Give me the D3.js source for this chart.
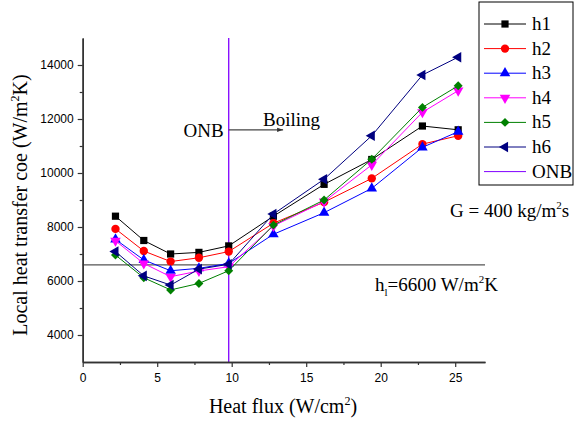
<!DOCTYPE html>
<html><head><meta charset="utf-8">
<script src="https://cdn.jsdelivr.net/npm/d3@7"></script>
<style>body{margin:0;background:#fff}svg{display:block}</style>
</head><body>
<svg id="c" width="576" height="421"></svg>
<script>
const heatFlux = [2.2, 4.1, 5.9, 7.8, 9.8, 12.8, 16.2, 19.4, 22.8, 25.2];
const h1 = [8400, 7500, 7000, 7060, 7300, 8400, 9580, 10500, 11740, 11600];
const h2 = [7930, 7110, 6720, 6860, 7090, 8140, 8920, 9800, 11070, 11380];
const h3 = [7540, 6780, 6380, 6470, 6650, 7730, 8530, 9430, 10950, 11530];
const h4 = [7490, 6650, 6160, 6370, 6530, 8040, 8940, 10300, 12250, 13050];
const h5 = [6960, 6120, 5670, 5910, 6380, 8070, 9000, 10510, 12430, 13230];
const h6 = [7090, 6190, 5850, 6440, 6620, 8480, 9770, 11380, 13630, 14290];
const seriesNames = ["h1","h2","h3","h4","h5","h6"];
const onbFlux = 9.8;
const hl = 6600;
const xTicks = [0,5,10,15,20,25];
const yTicks = [4000,6000,8000,10000,12000,14000];

const series = [h1,h2,h3,h4,h5,h6];
const colors = ["#000000","#ff0000","#0000ff","#ff00ff","#008000","#000080"];
const shapes = [
  {t:d3.symbolSquare, r:0, s:52},
  {t:d3.symbolCircle, r:0, s:55},
  {t:d3.symbolTriangle, r:0, s:48},
  {t:d3.symbolTriangle, r:180, s:48},
  {t:d3.symbolSquare, r:45, s:40},
  {t:d3.symbolTriangle, r:-90, s:48}
];
const onbColor = "#8000ff";

const svg = d3.select("#c");
const x = d3.scaleLinear().domain([0,27]).range([82.7,485]);
const y = d3.scaleLinear().domain([3000,15000]).range([362,38]);
const serif = "'Liberation Serif','Times New Roman',serif";
const sans = "'Liberation Sans',Arial,sans-serif";

// reference lines
svg.append("line").attr("x1",x(0)).attr("x2",x(27)).attr("y1",y(hl)).attr("y2",y(hl))
  .attr("stroke","#555").attr("stroke-width",1.3);
svg.append("line").attr("x1",x(onbFlux)).attr("x2",x(onbFlux)).attr("y1",y(15000)).attr("y2",y(3000))
  .attr("stroke",onbColor).attr("stroke-width",1.3);

// axes
const axisColor = "#333";
const xAx = svg.append("g").attr("transform",`translate(0,${y(3000)})`)
  .call(d3.axisBottom(x).tickValues(xTicks).tickSize(5).tickSizeOuter(0).tickPadding(6).tickFormat(d3.format("d")));
const xMinor = svg.append("g").attr("transform",`translate(0,${y(3000)})`)
  .call(d3.axisBottom(x).tickValues([2.5,7.5,12.5,17.5,22.5]).tickSize(3).tickSizeOuter(0).tickFormat(""));
const yAx = svg.append("g").attr("transform",`translate(${x(0)},0)`)
  .call(d3.axisLeft(y).tickValues(yTicks).tickSize(5).tickSizeOuter(0).tickPadding(4).tickFormat(d3.format("d")));
const yMinor = svg.append("g").attr("transform",`translate(${x(0)},0)`)
  .call(d3.axisLeft(y).tickValues([5000,7000,9000,11000,13000]).tickSize(3).tickSizeOuter(0).tickFormat(""));
[xAx,xMinor,yAx,yMinor].forEach(g=>{
  g.select(".domain").attr("stroke",axisColor).attr("stroke-width",1.5);
  g.selectAll(".tick line").attr("stroke",axisColor).attr("stroke-width",1.2);
  g.selectAll(".tick text").attr("font-family",sans).attr("font-size",12).attr("fill","#000");
});

// series
const line = d3.line().x((d,i)=>x(heatFlux[i])).y(d=>y(d));
series.forEach((s,k)=>{
  svg.append("path").datum(s).attr("d",line).attr("fill","none")
    .attr("stroke",colors[k]).attr("stroke-width",1);
  svg.append("g").selectAll("path").data(s).join("path")
    .attr("d",d3.symbol().type(shapes[k].t).size(shapes[k].s))
    .attr("transform",(d,i)=>`translate(${x(heatFlux[i])},${y(d)}) rotate(${shapes[k].r})`)
    .attr("fill",colors[k]);
});

// annotations
svg.append("defs").append("marker").attr("id","arr").attr("viewBox","0 0 10 10")
  .attr("refX",10).attr("refY",5).attr("markerWidth",7).attr("markerHeight",5).attr("orient","auto")
  .append("path").attr("d","M0,1.5L10,5L0,8.5Z").attr("fill","#333");
svg.append("line").attr("x1",x(onbFlux)).attr("x2",x(13.45)).attr("y1",y(11600)).attr("y2",y(11600))
  .attr("stroke","#444").attr("stroke-width",1.2).attr("marker-end","url(#arr)");
svg.append("text").attr("x",x(onbFlux)-5).attr("y",y(11600)+7).attr("text-anchor","end")
  .attr("font-family",serif).attr("font-size",19).text("ONB");
svg.append("text").attr("x",263).attr("y",y(11600)-4)
  .attr("font-family",serif).attr("font-size",19).text("Boiling");

const g1 = svg.append("text").attr("x",450).attr("y",217).attr("font-family",serif).attr("font-size",19);
g1.append("tspan").text("G = 400 kg/m");
g1.append("tspan").attr("font-size",11).attr("dy",-8).text("2");
g1.append("tspan").attr("dy",8).text("s");

const hlT = svg.append("text").attr("x",375).attr("y",291).attr("font-family",serif).attr("font-size",19);
hlT.append("tspan").text("h");
hlT.append("tspan").attr("font-size",11).attr("dy",5).text("l");
hlT.append("tspan").attr("dy",-5).text("=6600 W/m");
hlT.append("tspan").attr("font-size",11).attr("dy",-8).text("2");
hlT.append("tspan").attr("dy",8).text("K");

// axis titles
const xt = svg.append("text").attr("x",283).attr("y",413).attr("text-anchor","middle")
  .attr("font-family",serif).attr("font-size",20);
xt.append("tspan").text("Heat flux (W/cm");
xt.append("tspan").attr("font-size",12).attr("dy",-8).text("2");
xt.append("tspan").attr("dy",8).text(")");

const yt = svg.append("text").attr("transform","translate(27,205) rotate(-90)").attr("text-anchor","middle")
  .attr("font-family",serif).attr("font-size",20);
yt.append("tspan").text("Local heat transfer coe (W/m");
yt.append("tspan").attr("font-size",12).attr("dy",-8).text("2");
yt.append("tspan").attr("dy",8).text("K)");

// legend
const leg = svg.append("g");
leg.append("rect").attr("x",479).attr("y",2).attr("width",94).attr("height",183)
  .attr("fill","#fff").attr("stroke","#000").attr("stroke-width",1);
const legNames = seriesNames.concat(["ONB"]);
legNames.forEach((n,i)=>{
  const yy = 24 + i*24.6;
  const col = i<6 ? colors[i] : onbColor;
  leg.append("line").attr("x1",484).attr("x2",526).attr("y1",yy).attr("y2",yy)
    .attr("stroke",col).attr("stroke-width",1);
  if(i<6){
    leg.append("path").attr("d",d3.symbol().type(shapes[i].t).size(shapes[i].s))
      .attr("transform",`translate(505,${yy}) rotate(${shapes[i].r})`).attr("fill",col);
  }
  leg.append("text").attr("x",532).attr("y",yy+6).attr("font-family",serif).attr("font-size",19).text(n);
});
</script>
</body></html>
